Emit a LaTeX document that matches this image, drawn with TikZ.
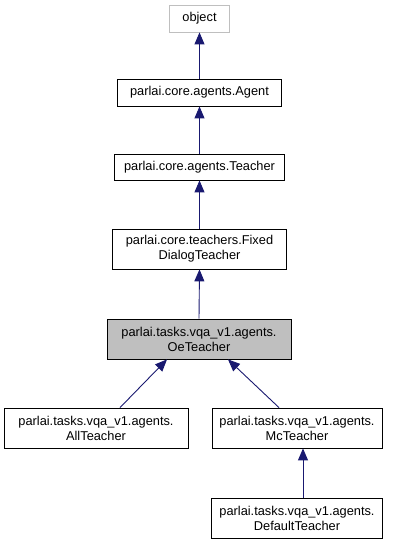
\documentclass[tikz,border=0pt]{standalone}
\usepackage{fontspec}
\setmainfont{Liberation Sans}
\usetikzlibrary{arrows.meta}
\definecolor{edgeblue}{RGB}{25,25,112}
\definecolor{hlgray}{RGB}{191,191,191}
\begin{document}
\begin{tikzpicture}[x=1pt,y=-1pt,
  box/.style={draw=black, line width=0.8pt, fill=white, inner sep=0pt, align=center,
    font=\fontsize{12.8}{15}\selectfont},
  edge/.style={draw=edgeblue, line width=0.9pt, -{Triangle[length=12pt,width=10pt]}}]
\useasboundingbox (0,0) rectangle (400,544);
\node[box, draw=hlgray, minimum width=60pt, minimum height=27pt] (object) at (199.5,18.5) {object};
\node[box, minimum width=164pt, minimum height=27pt] (agent) at (199.5,92.5) {parlai.core.agents.Agent};
\node[box, minimum width=170pt, minimum height=26pt] (teacher) at (199.5,167) {parlai.core.agents.Teacher};
\node[box, minimum width=174pt, minimum height=40pt] (fixed) at (199.5,249) {parlai.core.teachers.Fixed\\DialogTeacher};
\node[box, fill=hlgray, minimum width=184pt, minimum height=40pt] (oe) at (199,339) {parlai.tasks.vqa\_v1.agents.\\OeTeacher};
\node[box, minimum width=184pt, minimum height=40pt] (all) at (96,428) {parlai.tasks.vqa\_v1.agents.\\AllTeacher};
\node[box, minimum width=170pt, minimum height=40pt] (mc) at (297,428) {parlai.tasks.vqa\_v1.agents.\\McTeacher};
\node[box, minimum width=171pt, minimum height=40pt] (default) at (297,518) {parlai.tasks.vqa\_v1.agents.\\DefaultTeacher};
\draw[edge] (agent.north) -- (object.south);
\draw[edge] (teacher.north) -- (agent.south);
\draw[edge] (fixed.north) -- (teacher.south);
\draw[edge] (oe.north) -- (fixed.south);
\draw[edge] ([xshift=24pt]all.north) -- ([xshift=-32pt]oe.south);
\draw[edge] ([xshift=-18pt]mc.north) -- ([xshift=29pt]oe.south);
\draw[edge] ([xshift=6pt]default.north) -- ([xshift=6pt]mc.south);
\end{tikzpicture}
\end{document}
